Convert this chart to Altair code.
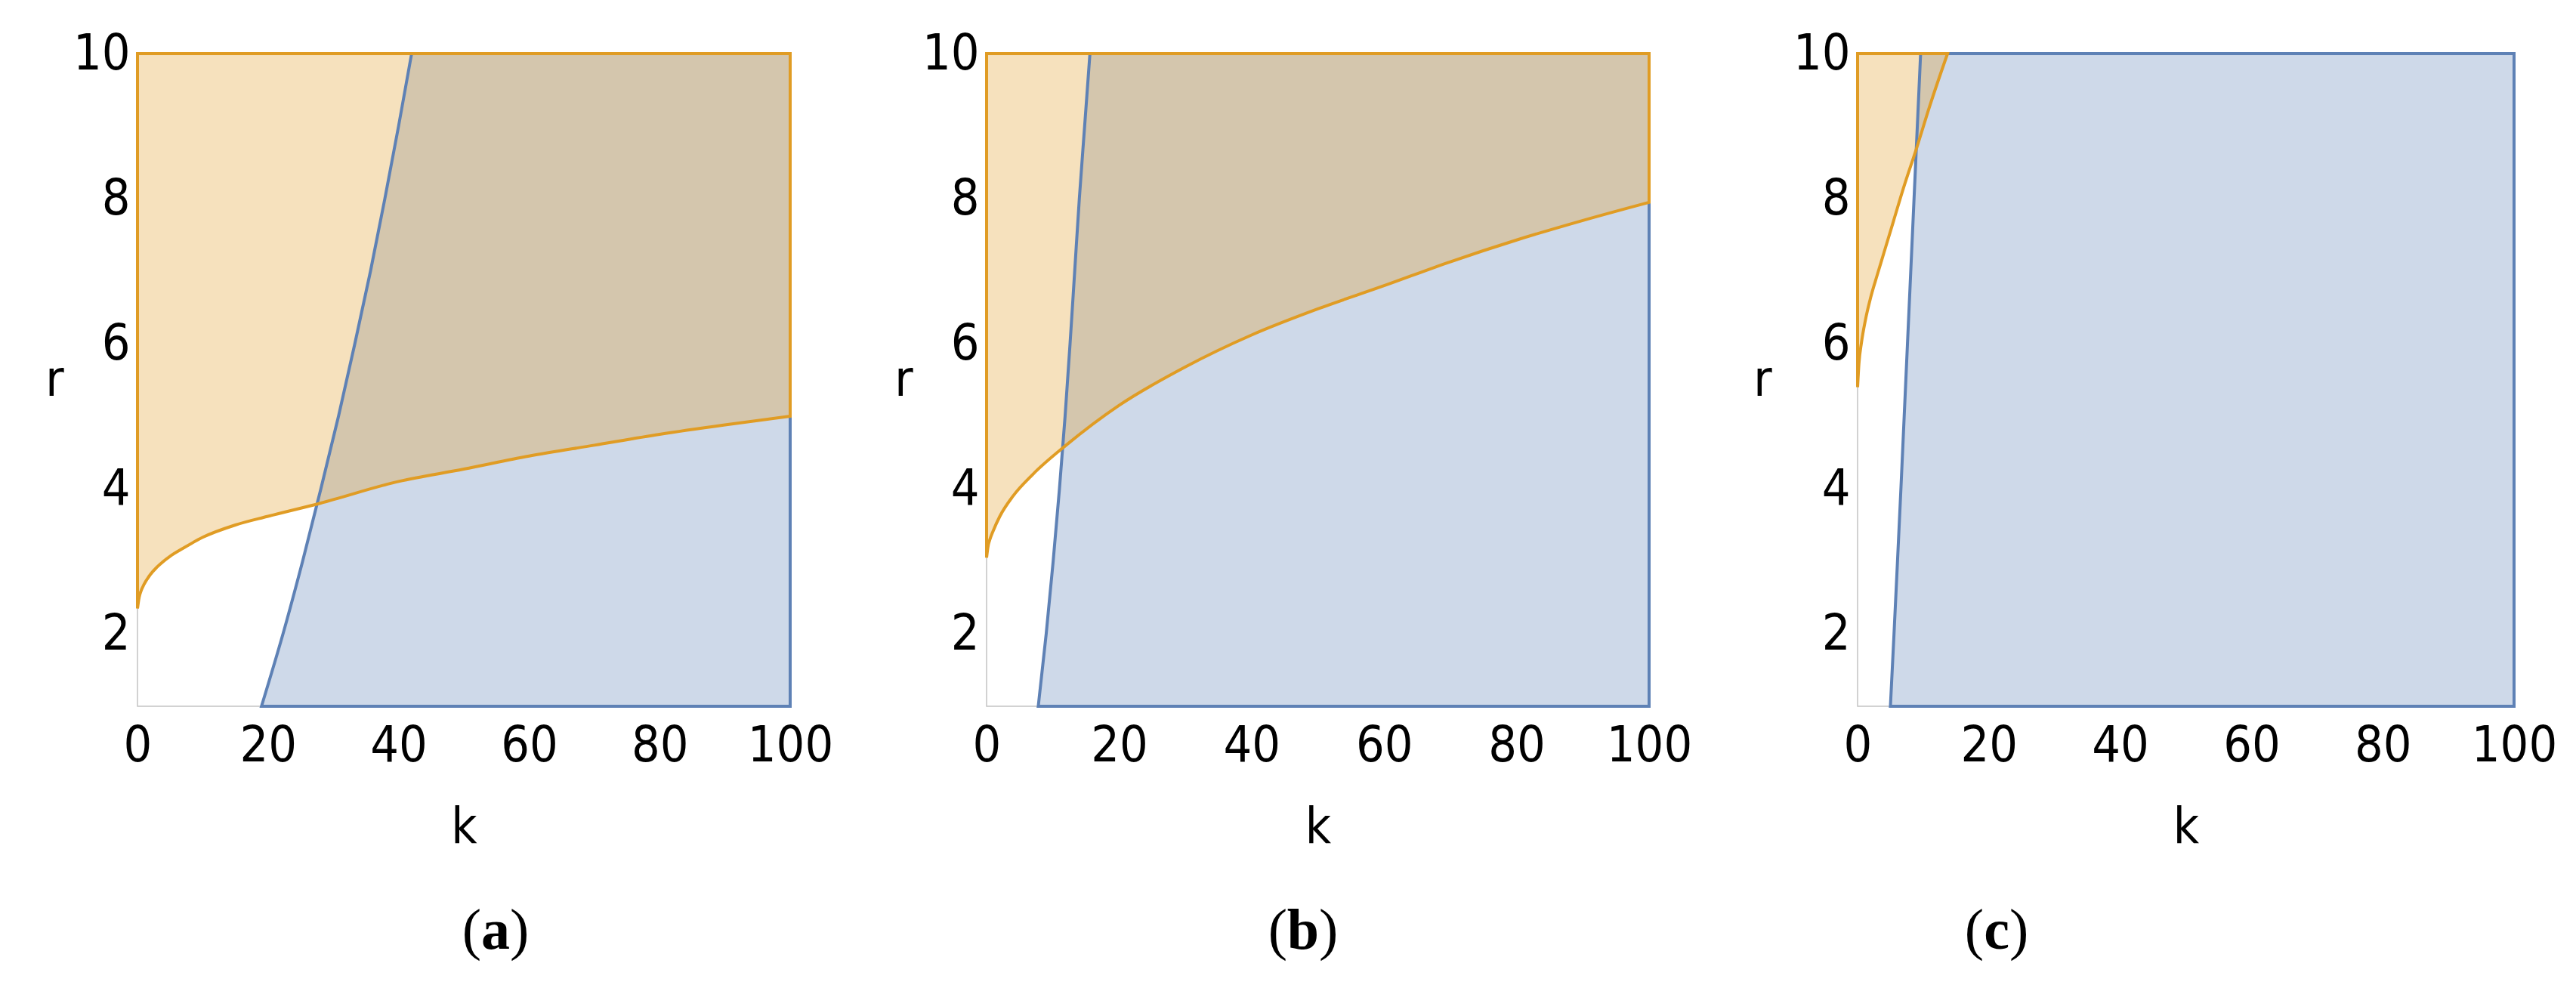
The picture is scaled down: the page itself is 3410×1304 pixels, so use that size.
import altair as alt
import pandas as pd

FONT = "DejaVu Sans Condensed, DejaVu Sans"
SERIF = "Liberation Serif"
ORANGE = "#E09C24"
BLUE = "#5E81B5"

K_TICKS = [0, 20, 40, 60, 80, 100]
R_TICKS = [2, 4, 6, 8, 10]

# ---- panel (a) ----
a_orange_k = [0, 0.25, 0.5, 1, 2, 3, 5, 7, 10, 15, 20, 28, 40, 50, 60, 70, 80, 90, 100]
a_orange_r = [2.35, 2.5, 2.58, 2.68, 2.82, 2.92, 3.07, 3.18, 3.33, 3.5, 3.62, 3.8, 4.1, 4.27, 4.45, 4.6, 4.75, 4.88, 5.0]
a_blue_r = [1, 2, 3, 4, 5, 6, 7, 8, 9, 10]
a_blue_k = [19.0, 22.3, 25.3, 28.1, 30.8, 33.3, 35.7, 37.9, 40.0, 42.0]

# ---- panel (b) ----
b_orange_k = [0, 0.25, 0.5, 1, 2, 4, 7, 12, 20, 30, 40, 50, 60, 70, 80, 90, 100]
b_orange_r = [3.05, 3.22, 3.3, 3.42, 3.62, 3.9, 4.2, 4.6, 5.15, 5.68, 6.12, 6.48, 6.8, 7.13, 7.43, 7.7, 7.95]
b_blue_r = [1, 2, 3, 4, 5, 6, 7, 8, 9, 10]
b_blue_k = [7.8, 9.0, 10.05, 11.0, 11.85, 12.6, 13.3, 14.0, 14.8, 15.6]

# ---- panel (c) ----
c_orange_k = [0, 0.2, 0.6, 1.2, 2, 3, 4, 5.5, 7, 9, 11, 13.7]
c_orange_r = [5.4, 5.72, 6.02, 6.33, 6.64, 6.95, 7.25, 7.7, 8.15, 8.7, 9.28, 10.0]
c_blue_r = [1, 2, 3, 4, 5, 6, 7, 8, 9, 10]
c_blue_k = [5.0, 5.55, 6.08, 6.6, 7.1, 7.6, 8.1, 8.6, 9.1, 9.6]

CAPTIONS = ["a", "b", "c"]

H = 864
LABEL_SIZE = 66
LW = 4


def panel(ok, orr, bk, br, letter, width, cap_x, title_x, cap_half):
    od = pd.DataFrame({"k": ok, "r": orr})
    bd = pd.DataFrame({"k": bk, "r": br})
    xs = alt.Scale(domain=[0, 100], nice=False, zero=False)
    ys = alt.Scale(domain=[1, 10], nice=False, zero=False)
    xax = alt.Axis(values=K_TICKS, title="k", labelFont=FONT, titleFont=FONT,
                   labelFontSize=LABEL_SIZE, titleFontSize=LABEL_SIZE,
                   titleFontWeight="normal", labelColor="black", titleColor="black",
                   ticks=False, tickSize=0, domain=False, grid=False,
                   labelPadding=20, labelFlush=False,
                   titleX=width / 2, titleY=180, titleBaseline="alphabetic",
                   titleAlign="center")
    yax = alt.Axis(values=R_TICKS, title="r", labelFont=FONT, titleFont=FONT,
                   labelFontSize=LABEL_SIZE, titleFontSize=LABEL_SIZE,
                   titleFontWeight="normal", labelColor="black", titleColor="black",
                   ticks=False, tickSize=0, domain=False, grid=False,
                   labelPadding=10, labelFlush=False,
                   titleAngle=0, titleX=title_x, titleY=H / 2,
                   titleAlign="center", titleBaseline="middle")

    def blue_area(fill_op, stroke_op):
        return alt.Chart(bd).mark_area(
            orient="horizontal", interpolate="monotone", fill=BLUE, fillOpacity=fill_op,
            stroke=BLUE, strokeWidth=LW, strokeOpacity=stroke_op
        ).encode(
            y=alt.Y("r:Q", scale=ys, axis=yax),
            x=alt.X("k:Q", scale=xs, axis=xax),
            x2=alt.datum(100),
        )

    def orange_area(fill_op, stroke_op):
        return alt.Chart(od).mark_area(
            interpolate="monotone", fill=ORANGE, fillOpacity=fill_op,
            stroke=ORANGE, strokeWidth=LW, strokeOpacity=stroke_op
        ).encode(
            x=alt.X("k:Q", scale=xs, axis=xax),
            y=alt.Y("r:Q", scale=ys, axis=yax),
            y2=alt.datum(10),
        )

    cap_y = 1185
    lp = alt.Chart(pd.DataFrame({"t": ["("]})).mark_text(
        font=SERIF, fontSize=76, align="right", baseline="alphabetic", color="black"
    ).encode(text="t:N", x=alt.value(cap_x - cap_half), y=alt.value(cap_y))
    lt = alt.Chart(pd.DataFrame({"t": [letter]})).mark_text(
        font=SERIF, fontSize=76, fontWeight="bold", align="center",
        baseline="alphabetic", color="black"
    ).encode(text="t:N", x=alt.value(cap_x), y=alt.value(cap_y))
    rp = alt.Chart(pd.DataFrame({"t": [")"]})).mark_text(
        font=SERIF, fontSize=76, align="left", baseline="alphabetic", color="black"
    ).encode(text="t:N", x=alt.value(cap_x + cap_half), y=alt.value(cap_y))
    return alt.layer(
        blue_area(0.3, 0), orange_area(0.3, 0),
        blue_area(0, 1), orange_area(0, 1),
        lp, lt, rp,
    ).properties(width=width, height=H)


pa = panel(a_orange_k, a_orange_r, a_blue_k, a_blue_r, CAPTIONS[0], 864, 474, -110, 19)
pb = panel(b_orange_k, b_orange_r, b_blue_k, b_blue_r, CAPTIONS[1], 877, 419, -110, 21)
pc = panel(c_orange_k, c_orange_r, c_blue_k, c_blue_r, CAPTIONS[2], 869, 184, -126, 17)

chart = alt.hconcat(pa, pb, pc, spacing=79).properties(
    padding={"left": 51, "top": 29, "right": 5, "bottom": 5},
    background="white",
).configure_view(stroke="#C4C4C4", strokeWidth=1.5)

chart.save("out.html", embed_options={"renderer": "svg", "actions": False})
